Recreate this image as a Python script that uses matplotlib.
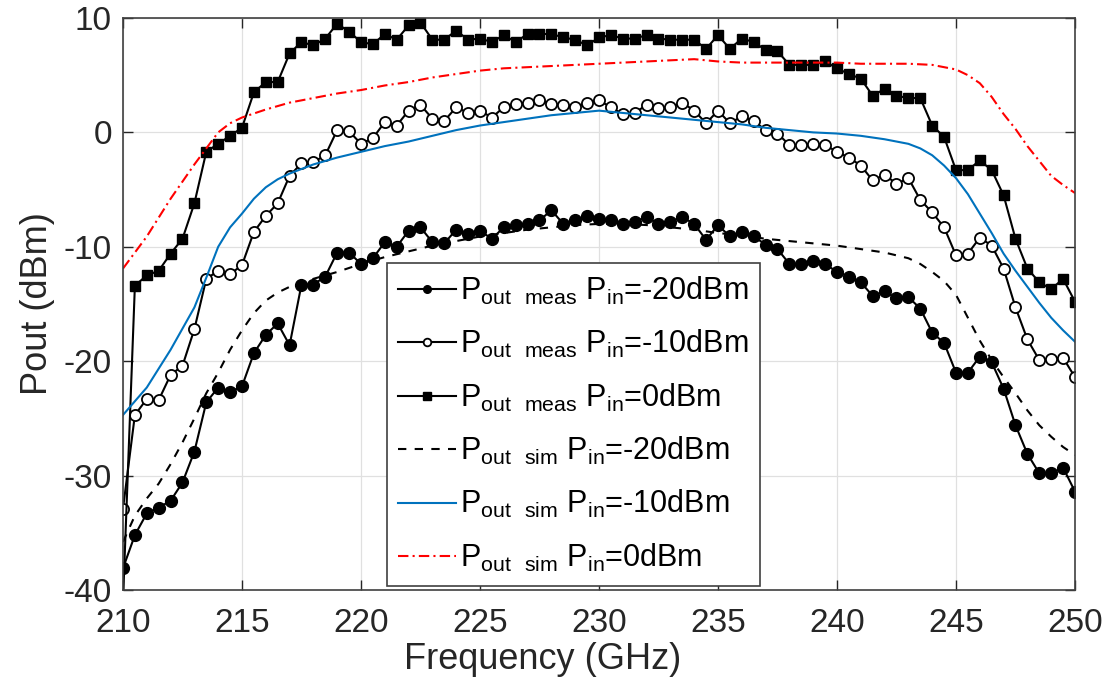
import numpy as np
import matplotlib
matplotlib.use("Agg")
import matplotlib.pyplot as plt

plt.rcParams['font.family'] = ['Liberation Sans', 'DejaVu Sans']
plt.rcParams['mathtext.default'] = 'regular'
plt.rcParams['axes.unicode_minus'] = False

# measured frequencies 210:0.5:250 GHz
freq_meas = [210 + 0.5 * i for i in range(81)]

meas_0dBm = [-41, -13.4, -12.5, -12.1, -10.6, -9.3, -6.2, -1.7, -1.0, -0.3,
             0.4, 3.5, 4.4, 4.4, 6.9, 7.9, 7.6, 8.2, 9.5, 8.8,
             7.9, 7.7, 8.6, 8.1, 9.35, 9.6, 8.1, 8.1, 8.9, 8.1,
             8.2, 7.9, 8.5, 7.9, 8.6, 8.6, 8.6, 8.3, 8.1, 7.6,
             8.3, 8.5, 8.2, 8.2, 8.5, 8.2, 8.1, 8.1, 8.1, 7.3,
             8.5, 7.3, 8.2, 7.9, 7.2, 7.1, 5.9, 5.9, 5.9, 6.2,
             5.6, 5.1, 4.7, 3.2, 3.8, 3.2, 3.0, 3.0, 0.6, -0.4,
             -3.3, -3.3, -2.45, -3.3, -5.5, -9.3, -11.9, -13.1, -13.7, -12.8,
             -14.8]

meas_m10dBm = [-32.9, -24.7, -23.3, -23.4, -21.2, -20.4, -17.2, -12.8, -12.1, -12.4,
               -11.6, -8.7, -7.3, -6.2, -3.8, -2.7, -2.6, -2.0, 0.2, 0.1,
               -1.0, -0.5, 0.9, 0.6, 1.9, 2.4, 1.2, 1.0, 2.2, 1.7,
               1.9, 1.3, 2.2, 2.5, 2.6, 2.8, 2.5, 2.4, 2.2, 2.6,
               2.8, 2.2, 1.6, 1.7, 2.4, 2.1, 2.2, 2.6, 1.9, 0.8,
               1.9, 0.8, 1.4, 1.0, 0.2, -0.1, -1.1, -1.1, -1.0, -1.1,
               -1.7, -2.2, -2.9, -4.2, -3.7, -4.5, -4.0, -5.9, -7.0, -8.3,
               -10.75, -10.6, -9.2, -9.9, -11.9, -15.3, -18.1, -19.9, -19.8, -19.7,
               -21.4]

meas_m20dBm = [-38.1, -35.2, -33.3, -32.8, -32.2, -30.6, -27.9, -23.6, -22.3, -22.7,
               -22.2, -19.3, -17.7, -16.7, -18.6, -13.3, -13.3, -12.6, -10.5, -10.5,
               -11.5, -11.0, -9.6, -10.0, -8.6, -8.3, -9.6, -9.7, -8.5, -8.9,
               -8.6, -9.3, -8.3, -8.1, -8.0, -7.7, -6.8, -8.0, -7.7, -7.3,
               -7.6, -7.7, -8.0, -7.8, -7.4, -8.0, -7.8, -7.4, -8.0, -9.4,
               -8.1, -9.1, -8.7, -9.1, -9.8, -10.2, -11.5, -11.5, -11.2, -11.5,
               -12.2, -12.6, -13.1, -14.3, -13.9, -14.5, -14.4, -15.4, -17.5, -18.4,
               -21.0, -21.0, -19.6, -20.1, -22.4, -25.6, -28.1, -29.8, -29.8, -29.3,
               -31.4]

# simulated curves
freq_sim0 = [210, 211, 212, 213, 213.5, 214, 214.5, 215, 216, 217, 218, 219, 220,
             221, 222, 223, 224, 225, 226, 227, 228, 229, 230, 231, 232, 233, 234,
             235, 236, 237, 238, 239, 240, 241, 242, 243, 244, 244.5, 245, 245.5,
             246, 246.5, 247, 247.5, 248, 248.5, 249, 249.5, 250]
sim_0dBm = [-11.9, -9.1, -5.8, -2.8, -1.4, 0.0, 0.8, 1.3, 2.0, 2.6, 3.0, 3.4, 3.7,
            4.1, 4.4, 4.8, 5.1, 5.4, 5.6, 5.7, 5.8, 5.9, 6.0, 6.1, 6.2, 6.3, 6.4,
            6.2, 6.1, 6.1, 6.1, 6.1, 6.1, 6.0, 6.0, 6.0, 5.9, 5.7, 5.5, 5.0,
            4.3, 3.1, 1.6, 0.3, -1.2, -2.5, -3.8, -4.6, -5.3]

freq_sim10 = [210, 211, 212, 213, 213.5, 214, 214.5, 215, 215.5, 216, 216.5, 217,
              218, 219, 220, 221, 222, 223, 224, 225, 226, 227, 228, 229, 230, 231,
              232, 233, 234, 235, 236, 237, 238, 239, 240, 241, 242, 243, 243.5,
              244, 244.5, 245, 245.5, 246, 246.5, 247, 247.5, 248, 248.5, 249,
              249.5, 250]
sim_m10dBm = [-24.7, -22.3, -19.0, -15.3, -12.7, -10.0, -8.3, -7.1, -5.8, -4.8, -4.1,
              -3.6, -2.8, -2.2, -1.7, -1.2, -0.8, -0.3, 0.2, 0.6, 0.9, 1.2, 1.5,
              1.7, 1.9, 1.7, 1.5, 1.3, 1.1, 0.9, 0.7, 0.4, 0.2, 0.0, -0.1, -0.3,
              -0.6, -1.0, -1.4, -2.0, -2.9, -4.0, -5.4, -7.1, -8.8, -10.6, -12.1,
              -13.5, -14.9, -16.2, -17.3, -18.3]

freq_sim20 = [210, 210.5, 211, 211.5, 212, 212.5, 213, 213.5, 214, 214.5, 215,
              215.5, 216, 216.5, 217, 218, 219, 220, 221, 222, 223, 224, 225, 226,
              227, 228, 229, 230, 231, 232, 233, 234, 235, 236, 237, 238, 239, 240,
              241, 242, 243, 243.5, 244, 244.5, 245, 245.5, 246, 246.5, 247, 247.5,
              248, 248.5, 249, 249.5, 250]
sim_m20dBm = [-35.8, -33.5, -32.0, -30.7, -29.0, -27.1, -25.0, -22.8, -21.0, -19.0,
              -17.3, -15.8, -14.7, -14.0, -13.5, -12.8, -12.2, -11.5, -10.9, -10.4,
              -9.9, -9.5, -9.1, -8.8, -8.5, -8.3, -8.1, -8.0, -8.0, -8.1, -8.3,
              -8.5, -8.8, -9.0, -9.3, -9.5, -9.7, -9.9, -10.2, -10.5, -11.0, -11.5,
              -12.2, -13.0, -14.2, -16.2, -18.2, -19.9, -21.4, -22.8, -24.3, -25.6,
              -26.6, -27.5, -28.2]

x_ticks = [210, 215, 220, 225, 230, 235, 240, 245, 250]
y_ticks = [-40, -30, -20, -10, 0, 10]

labels = [r'P$_{out\ \ meas}$ P$_{in}$=-20dBm',
          r'P$_{out\ \ meas}$ P$_{in}$=-10dBm',
          r'P$_{out\ \ meas}$ P$_{in}$=0dBm',
          r'P$_{out\ \ sim}$ P$_{in}$=-20dBm',
          r'P$_{out\ \ sim}$ P$_{in}$=-10dBm',
          r'P$_{out\ \ sim}$ P$_{in}$=0dBm']

fig = plt.figure(figsize=(11.02, 6.81), dpi=100)
ax = fig.add_axes([0.1116, 0.1336, 0.8639, 0.84])

lw = 1.5
h1, = ax.plot(freq_meas, meas_m20dBm, '-o', color='black', lw=lw, ms=8.5,
              mfc='black', mec='black')
h2, = ax.plot(freq_meas, meas_m10dBm, '-o', color='black', lw=lw, ms=8,
              mfc='white', mec='black', mew=1.3)
h3, = ax.plot(freq_meas, meas_0dBm, '-s', color='black', lw=lw, ms=7.5,
              mfc='black', mec='black')
h4, = ax.plot(freq_sim20, sim_m20dBm, '--', color='black', lw=lw,
              dashes=(4, 4))
h5, = ax.plot(freq_sim10, sim_m10dBm, '-', color='#0072BD', lw=lw)
h6, = ax.plot(freq_sim0, sim_0dBm, '-.', color='#FF0000', lw=lw,
              dashes=(5, 2, 1, 2))

ax.set_xlim(210, 250)
ax.set_ylim(-40, 10)
ax.set_xticks(x_ticks)
ax.set_yticks(y_ticks)
ax.grid(True, color='#e0e0e0', lw=0.9)
ax.set_axisbelow(True)
ax.tick_params(direction='in', length=7, width=1, labelsize=24, top=True,
               right=True, colors='#262626')
ax.tick_params(axis='x', pad=13)
ax.tick_params(axis='y', pad=8)
for s in ax.spines.values():
    s.set_color('#404040')
    s.set_linewidth(1.2)

ax.set_xlabel('Frequency (GHz)', fontsize=26, color='#262626')
ax.xaxis.set_label_coords(0.441, -0.122, transform=ax.transAxes)
ax.xaxis.label.set_va('center')
ax.set_ylabel('Pout (dBm)', fontsize=26, color='#262626', labelpad=6)

leg = ax.legend([h1, h2, h3, h4, h5, h6], labels, loc='upper left',
                bbox_to_anchor=(0.277, 0.572), borderaxespad=0, fontsize=22,
                handlelength=1.9, handletextpad=0.12, labelspacing=0.7,
                borderpad=0.38, fancybox=False, framealpha=1, edgecolor='#404040')
leg.get_frame().set_linewidth(1.2)
for lh in leg.legend_handles:
    try:
        lh.set_markersize(5.5)
    except Exception:
        pass

fig.savefig('out.png', dpi=100)
